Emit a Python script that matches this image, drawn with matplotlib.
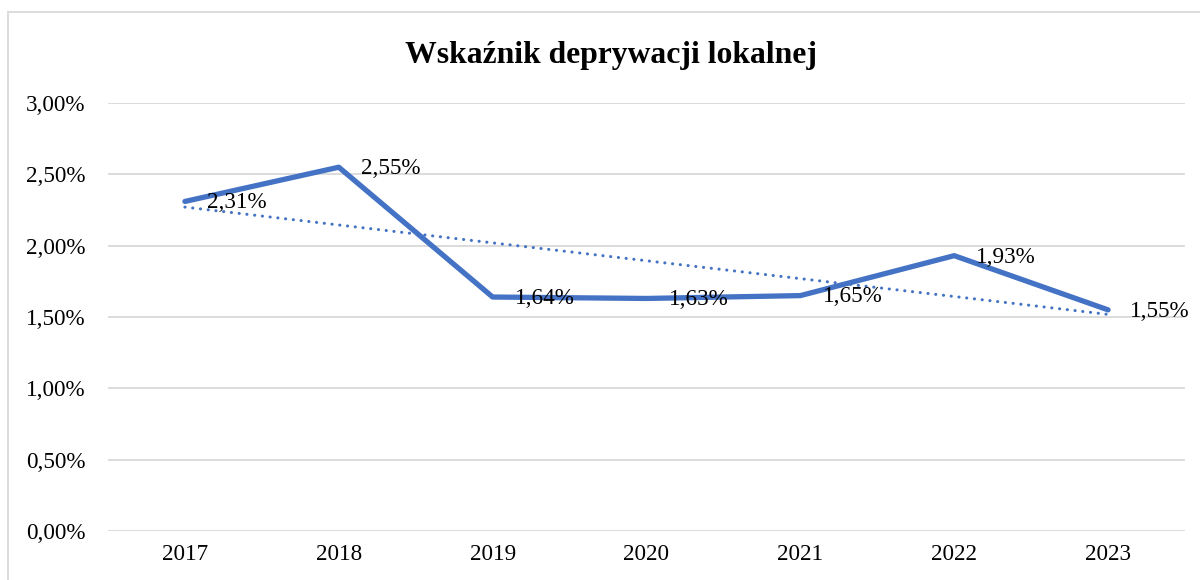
import matplotlib
matplotlib.use("Agg")
import matplotlib.pyplot as plt
from matplotlib.patches import Rectangle
from matplotlib.ticker import FuncFormatter, MultipleLocator
import numpy as np

years = ["2017", "2018", "2019", "2020", "2021", "2022", "2023"]
values = [2.31, 2.55, 1.64, 1.63, 1.65, 1.93, 1.55]
title = "Wskaźnik deprywacji lokalnej"

plt.rcParams['font.family'] = ['Liberation Serif', 'DejaVu Serif']
color = "#4472C4"

fig = plt.figure(figsize=(12, 5.8), dpi=100)
ax = fig.add_axes([108/1200, 1 - 531/580, (1185-108)/1200, (531-103)/580])

x = np.arange(len(years))
ax.plot(x, values, color=color, lw=3.8, solid_joinstyle='round', solid_capstyle='round', zorder=3)
coef = np.polyfit(x, values, 1)
trend = np.polyval(coef, x)
ax.plot(x, trend, color=color, lw=2.2, linestyle=(0, (0.05, 2.5)), dash_capstyle='round', zorder=2)

for xi, v in zip(x, values):
    ax.annotate(f"{v:.2f}%".replace('.', ','), (xi, v), xytext=(16, -1), textcoords='offset points',
                ha='left', va='center', fontsize=16.7, color='black', zorder=4)

ax.set_xlim(-0.5, len(years) - 0.5)
ax.set_ylim(0, 3.0)
ax.yaxis.set_major_locator(MultipleLocator(0.5))
ax.yaxis.set_major_formatter(FuncFormatter(lambda v, p: f"{v:.2f}%".replace('.', ',')))
ax.set_xticks(x)
ax.set_xticklabels(years)
ax.grid(axis='y', color='#D9D9D9', lw=1.3)
ax.set_axisbelow(True)
for s in ax.spines.values():
    s.set_visible(False)
ax.tick_params(axis='both', length=0, labelsize=16.7)
ax.tick_params(axis='y', pad=16)
ax.tick_params(axis='x', pad=9)

fig.text(611/1200, 1 - 56/580, title, ha='center', va='center', fontsize=22.8, fontweight='bold')

fig.patches.append(Rectangle((8/1200, -0.05), 1.2, 1 - 12/580 + 0.05, transform=fig.transFigure,
                             fill=False, edgecolor='#D9D9D9', lw=1.3))

fig.savefig("out.png", dpi=100, facecolor='white')
